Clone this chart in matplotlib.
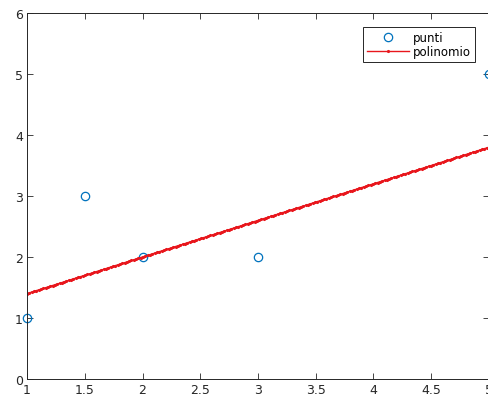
import matplotlib
matplotlib.use("Agg")
import matplotlib.pyplot as plt
import numpy as np

# data points
x_punti = [1, 1.5, 2, 3, 5]
y_punti = [1, 3, 2, 2, 5]

# fitted line: 1.4 at x=1, 3.8 at x=5
coeff = [0.6, 0.8]
x_poli = np.linspace(1, 5, 200)
y_poli = np.polyval(coeff, x_poli)

fig = plt.figure(figsize=(4.89, 4.02), dpi=100)
ax = fig.add_axes([27 / 489, 1 - 380 / 402, 462 / 489, 366 / 402])

ax.plot(x_punti, y_punti, 'o', mfc='none', mec='#0072BD', ms=6, mew=0.9,
        label='punti', clip_on=False)
ax.plot(x_poli, y_poli, '.-', color='#e8161c', lw=1, ms=2.5, label='polinomio')

ax.set_xlim(1, 5)
ax.set_ylim(0, 6)
ax.set_xticks([1, 1.5, 2, 2.5, 3, 3.5, 4, 4.5, 5])
ax.set_xticklabels(['1', '1.5', '2', '2.5', '3', '3.5', '4', '4.5', '5'])
ax.set_yticks(range(7))
ax.tick_params(direction='in', length=4, width=0.6, labelsize=9,
               colors='#262626', top=True, right=True, pad=3)
for s in ax.spines.values():
    s.set_linewidth(0.7)
    s.set_color('#262626')

leg = ax.legend(loc='upper right', bbox_to_anchor=(0.97, 0.962), fontsize=8.5,
                fancybox=False, edgecolor='#262626', framealpha=1,
                borderpad=0.35, handlelength=3.6, handletextpad=0.3,
                labelspacing=0.1, borderaxespad=0)
leg.get_frame().set_linewidth(0.7)

fig.savefig('out.png', dpi=100)
